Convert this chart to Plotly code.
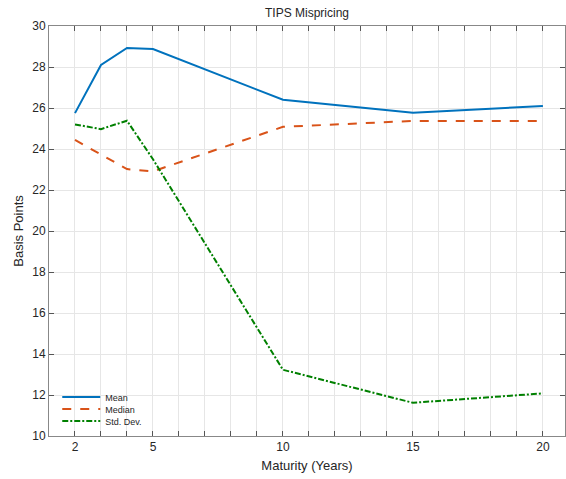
import plotly.graph_objects as go

maturity = [2, 3, 4, 5, 10, 15, 20]
mean_bp = [25.75, 28.1, 28.93, 28.88, 26.4, 25.77, 26.1]
median_bp = [24.44, 23.72, 23.02, 22.91, 25.08, 25.37, 25.37]
std_bp = [25.2, 24.97, 25.38, 23.5, 13.23, 11.62, 12.08]

x_tick_vals = list(range(1, 21))
x_label_vals = [2, 5, 10, 15, 20]
x_tick_text = [str(v) if v in x_label_vals else "" for v in x_tick_vals]
y_tick_vals = [10, 12, 14, 16, 18, 20, 22, 24, 26, 28, 30]

fig = go.Figure()
fig.add_trace(go.Scatter(x=maturity, y=mean_bp, mode="lines", name="Mean",
                         line=dict(color="#0072BD", width=2), legend="legend"))
fig.add_trace(go.Scatter(x=maturity, y=median_bp, mode="lines", name="Median",
                         line=dict(color="#D95319", width=2, dash="dash"), legend="legend2"))
fig.add_trace(go.Scatter(x=maturity, y=std_bp, mode="lines", name="Std. Dev.",
                         line=dict(color="#008000", width=2, dash="6px,2px,2px,2px"),
                         legend="legend3"))

font_family = "Liberation Sans, Arial, sans-serif"
plot_h = 410.0


def leg(ypix):
    return dict(x=0.016, y=(436 - ypix) / plot_h, xanchor="left", yanchor="middle",
                bgcolor="rgba(0,0,0,0)", borderwidth=0, itemwidth=38,
                font=dict(size=9, color="#262626"))


fig.update_layout(
    width=566, height=479,
    margin=dict(l=49, r=1, t=26, b=43),
    paper_bgcolor="white", plot_bgcolor="white",
    font=dict(family=font_family, color="#262626", size=12),
    title=dict(text="TIPS Mispricing", x=(49 + 565) / 2 / 566, xanchor="center",
               y=1 - 13 / 479, yanchor="middle", font=dict(size=12, color="#262626")),
    showlegend=True,
    legend=leg(397),
    legend2=leg(409),
    legend3=leg(421),
)
fig.update_xaxes(
    range=[1, 20.85], tickmode="array", tickvals=x_tick_vals, ticktext=x_tick_text,
    ticks="inside", ticklen=5, tickcolor="#555", tickwidth=1,
    showline=True, linecolor="#888", linewidth=1, mirror="ticks",
    showgrid=True, gridcolor="#e6e6e6", gridwidth=1, zeroline=False,
    tickfont=dict(size=12, color="#262626"),
    title=dict(text="Maturity (Years)", font=dict(size=13, color="#262626"), standoff=7),
)
fig.update_yaxes(
    range=[10, 30], tickmode="array", tickvals=y_tick_vals,
    ticks="inside", ticklen=5, tickcolor="#555", tickwidth=1,
    showline=True, linecolor="#888", linewidth=1, mirror="ticks",
    showgrid=True, gridcolor="#e6e6e6", gridwidth=1, zeroline=False,
    tickfont=dict(size=12, color="#262626"),
    title=dict(text="Basis Points", font=dict(size=13, color="#262626"), standoff=5),
)

fig.write_html("out.html")
